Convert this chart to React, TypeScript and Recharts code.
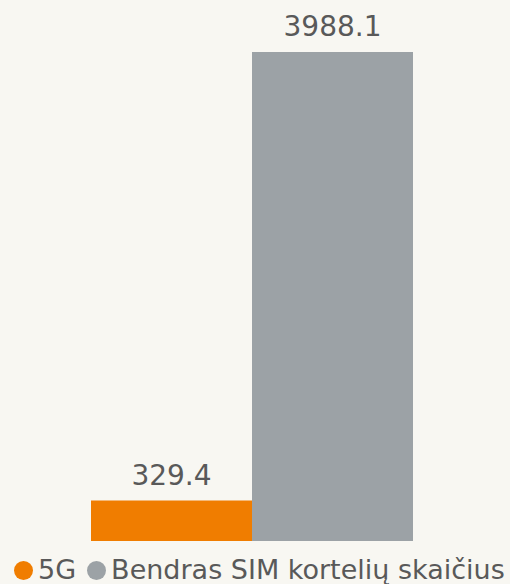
import { Bar, BarChart, LabelList, XAxis, YAxis } from 'recharts';

const categories = ['SIM'];
const fiveG = [329.4];
const totalSim = [3988.1];
const seriesNames = ['5G', 'Bendras SIM kortelių skaičius'];
const colors = ['#f07d00', '#9ca2a6'];

const data = categories.map((c, i) => ({ name: c, g5: fiveG[i], total: totalSim[i] }));

const FONT = '"DejaVu Sans", Verdana, sans-serif';
const TEXT = '#595959';

export default function App() {
  return (
    <div
      style={{
        position: 'fixed',
        left: 0,
        top: 0,
        width: 510,
        height: 584,
        background: '#f8f7f2',
        fontFamily: FONT,
        overflow: 'hidden',
      }}
    >
      <BarChart
        width={510}
        height={584}
        data={data}
        margin={{ top: 52, right: 97, bottom: 43, left: 91 }}
        barCategoryGap={0}
        barGap={0}
      >
        <XAxis dataKey="name" hide />
        <YAxis hide domain={[0, 3988.1]} />
        <Bar dataKey="g5" fill={colors[0]} isAnimationActive={false}>
          <LabelList dataKey="g5" position="top" offset={16} fill={TEXT} fontSize={28} fontFamily={FONT} />
        </Bar>
        <Bar dataKey="total" fill={colors[1]} isAnimationActive={false}>
          <LabelList dataKey="total" position="top" offset={16} fill={TEXT} fontSize={28} fontFamily={FONT} />
        </Bar>
      </BarChart>
      <div
        style={{
          position: 'absolute',
          left: 14,
          top: 554,
          display: 'flex',
          alignItems: 'center',
          fontSize: 27,
          lineHeight: '31px',
          color: TEXT,
          whiteSpace: 'nowrap',
        }}
      >
        {seriesNames.map((n, i) => (
          <span key={n} style={{ display: 'flex', alignItems: 'center', marginRight: 11 }}>
            <span
              style={{
                display: 'inline-block',
                width: 19,
                height: 19,
                borderRadius: '50%',
                background: colors[i],
                marginRight: 5,
                marginTop: 2,
              }}
            />
            {n}
          </span>
        ))}
      </div>
    </div>
  );
}
